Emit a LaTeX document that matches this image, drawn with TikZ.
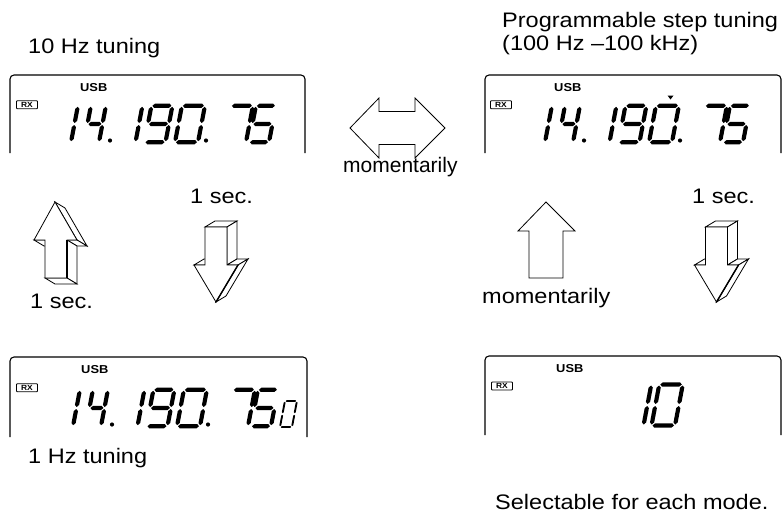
\documentclass[tikz,border=0pt]{standalone}
\usepackage{fontspec}
\setmainfont[FakeStretch=1.12]{Liberation Sans}
\newfontfamily\plainfont{Liberation Sans}
\def\segt{4.2}
\def\segg{1.0}
\newcommand\hseg[3]{\fill ({#1},{#3}) -- ({#1+\segt/2},{#3+\segt/2}) -- ({#2-\segt/2},{#3+\segt/2}) -- ({#2},{#3}) -- ({#2-\segt/2},{#3-\segt/2}) -- ({#1+\segt/2},{#3-\segt/2}) -- cycle;}
\newcommand\vseg[3]{\fill ({#1},{#2}) -- ({#1+\segt/2},{#2+\segt/2}) -- ({#1+\segt/2},{#3-\segt/2}) -- ({#1},{#3}) -- ({#1-\segt/2},{#3-\segt/2}) -- ({#1-\segt/2},{#2+\segt/2}) -- cycle;}
\def\lcdsega{\hseg{\segg}{\dw-\segg}{\dh}}
\def\lcdsegb{\vseg{\dw}{\dh/2+\segg}{\dh-\segg}}
\def\lcdsegc{\vseg{\dw}{\segg}{\dh/2-\segg}}
\def\lcdsegd{\hseg{\segg}{\dw-\segg}{0}}
\def\lcdsege{\vseg{0}{\segg}{\dh/2-\segg}}
\def\lcdsegf{\vseg{0}{\dh/2+\segg}{\dh-\segg}}
\def\lcdsegg{\hseg{\segg}{\dw-\segg}{\dh/2}}
\newcommand\lcddigit[5]{%
  \begin{scope}[shift={(#1,#2)},x=1pt,y=1pt,xslant=0.19]
    \def\dw{#3}\def\dh{#4}%
    \foreach \s in {#5}{\csname lcdseg\s\endcsname}
  \end{scope}}
\tikzset{
  lcdbox/.style={draw, line width=1.1pt, rounded corners=4pt},
  lbl/.style={anchor=base west, inner sep=0pt, font=\fontsize{21}{25}\selectfont},
  lblplain/.style={anchor=base west, inner sep=0pt, font=\plainfont\fontsize{21}{25}\selectfont},
  usb/.style={anchor=base west, inner sep=0pt, font=\fontsize{11.5}{13}\selectfont\bfseries},
  rxbox/.style={draw, line width=0.9pt, rounded corners=0.8pt, inner sep=0pt,
    minimum width=21pt, minimum height=8pt, font=\fontsize{7.5}{8}\selectfont\bfseries},
  face/.style={draw, fill=white, line width=0.8pt, line join=miter},
}
\newcommand\freqdigits{%
  \lcddigit{60}{142.2}{11}{36.4}{b,c}
  \lcddigit{84}{142.2}{15}{36.4}{b,c,f,g}
  \fill (110,140.5) circle (2.1pt);
  \lcddigit{113.5}{142.2}{22}{36.4}{b,c}
  \lcddigit{144.5}{142.2}{21}{36.4}{a,b,c,d,f,g}
  \lcddigit{175}{142.2}{23}{36.4}{a,b,c,d,e,f}
  \fill (206,140.5) circle (2.1pt);
  \lcddigit{224}{142.2}{22}{36.4}{a,b,c}
  \lcddigit{249}{142.2}{20}{36.4}{a,c,d,f,g}}
\begin{document}
\begin{tikzpicture}[x=1pt,y=-1pt]
\useasboundingbox (0,0) rectangle (782,520);

% ---------- panel 1 (top left) ----------
\draw[lcdbox] (10,153) -- (10,75) -- (305,75) -- (305,153);
\node[usb] (usb1) at (80,91.5) {USB};
\node[rxbox] (rx1) at (27,104.7) {RX};
\freqdigits
\node[lbl] (t10hz) at (28,53) {10 Hz tuning};

% ---------- panel 2 (top right) ----------
\begin{scope}[xshift=474pt]
\draw[lcdbox] (11,153) -- (11,75) -- (307,75) -- (307,153);
\node[usb] (usb2) at (80,91.5) {USB};
\node[rxbox] (rx2) at (27,104.7) {RX};
\freqdigits
\end{scope}
\fill (667.5,95.5) -- (673.5,95.5) -- (670.5,99.5) -- cycle;
\node[lbl] (tprog) at (502,27.5) {Programmable step tuning};
\node[lbl] (trange) at (502,50) {(100 Hz –100 kHz)};

% ---------- panel 3 (bottom left) ----------
\draw[lcdbox] (10,437) -- (10,357) -- (307,357) -- (307,437);
\node[usb] (usb3) at (81,373.5) {USB};
\node[rxbox] (rx3) at (27,387.7) {RX};
\begin{scope}[shift={(2,284)}]
\freqdigits
\end{scope}
{\def\segt{1.9}\def\segg{0.8}\lcddigit{280}{427}{12}{26}{a,b,c,d,e,f}}
\node[lbl] (t1hz) at (28,463) {1 Hz tuning};

% ---------- panel 4 (bottom right) ----------
\draw[lcdbox] (485,435) -- (485,356) -- (781,356) -- (781,435);
\node[usb] (usb4) at (556,372.5) {USB};
\node[rxbox] (rx4) at (502,386) {RX};
\lcddigit{623.5}{425.5}{20}{41}{b,c}
\lcddigit{651.5}{425.5}{23.5}{41}{a,b,c,d,e,f}
\node[lbl] (tsel) at (495,509) {Selectable for each mode.};

% ---------- double arrow ----------
\draw[face] (350,128) -- (379,98) -- (379,111.5) -- (415,111.5) -- (415,98) -- (445,128)
  -- (415,158) -- (415,144.5) -- (379,144.5) -- (379,158) -- cycle;
\node[lblplain] (mom1) at (343,172) {momentarily};

% ---------- left 3D up arrow ----------
\draw[face] (45,240) -- (34,240) -- (44,246) -- (55,246) -- cycle;
\draw[face] (55,202) -- (77,240) -- (87,246) -- (65,208) -- cycle;
\draw[face] (77,240) -- (67,240) -- (77,246) -- (87,246) -- cycle;
\draw[face] (67,240) -- (67,278) -- (77,284) -- (77,246) -- cycle;
\draw[face] (67,278) -- (45,278) -- (55,284) -- (77,284) -- cycle;
\draw[face] (55,202) -- (77,240) -- (67,240) -- (67,278) -- (45,278) -- (45,240) -- (34,240) -- cycle;
\draw[line width=1.4pt] (67,240) -- (67,278);
\node[lbl] (sec1) at (30,308) {1 sec.};

% ---------- 3D down arrows ----------
\foreach \dx in {0,500.5}{
\begin{scope}[xshift=\dx pt]
\draw[face] (194,265) -- (205,265) -- (215,259) -- (204,259) -- cycle;
\draw[face] (205,227) -- (227,227) -- (237,221) -- (215,221) -- cycle;
\draw[face] (227,227) -- (227,265) -- (237,259) -- (237,221) -- cycle;
\draw[face] (227,265) -- (238,265) -- (248,259) -- (237,259) -- cycle;
\draw[face] (238,265) -- (216,302) -- (226,296) -- (248,259) -- cycle;
\draw[face] (205,227) -- (227,227) -- (227,265) -- (238,265) -- (216,302) -- (194,265) -- (205,265) -- cycle;
\draw[line width=1.4pt] (238,265) -- (216,302);
\end{scope}}
\node[lbl] (sec2) at (190,203) {1 sec.};
\node[lbl] (sec3) at (692,203) {1 sec.};

% ---------- plain up arrow ----------
\draw[face] (546,202) -- (575,231) -- (563,231) -- (563,278) -- (529,278) -- (529,231) -- (518,231) -- cycle;
\node[lbl] (mom2) at (482,303) {momentarily};
\end{tikzpicture}
\end{document}
